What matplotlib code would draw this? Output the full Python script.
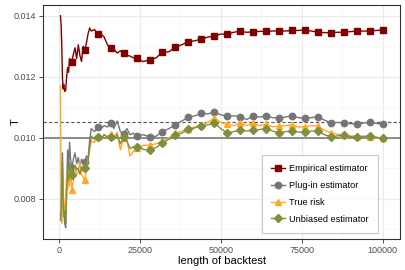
import matplotlib
matplotlib.use('Agg')
import matplotlib.pyplot as plt
import numpy as np

plt.rcParams['font.family'] = ['Liberation Sans', 'DejaVu Sans']

# Backtest lengths where the curves are sampled.
x_len = [500, 700, 900, 1100, 1300, 1500, 1800, 2100, 2400, 2700, 3000, 3300, 3600,
         4000, 4500, 5000, 5500, 6000, 6500, 7000, 7500, 8000, 8500, 9000, 9500,
         10000, 11000, 12000, 13000, 14000, 15000, 16000, 17000, 18000, 19000,
         20000, 21000, 22000, 23000, 24000, 26000, 28000, 30000, 32000, 34000,
         36000, 38000, 40000, 42000, 44000, 46000, 48000, 50000, 52000, 54000,
         56000, 58000, 60000, 62000, 64000, 66000, 68000, 70000, 72000, 74000,
         76000, 78000, 80000, 82000, 84000, 86000, 88000, 90000, 92000, 94000,
         96000, 98000, 100000]

empirical = [0.01400, 0.01370, 0.01300, 0.01200, 0.01160, 0.01175, 0.01152, 0.01155, 0.01200,
             0.01230, 0.01215, 0.01260, 0.01240,
             0.01250, 0.01275, 0.01295, 0.01260, 0.01305, 0.01270, 0.01250, 0.01300,
             0.01288, 0.01310, 0.01340, 0.01360,
             0.01350, 0.01355, 0.01339, 0.01340, 0.01330, 0.01305, 0.01295, 0.01290,
             0.01278, 0.01285,
             0.01277, 0.01270, 0.01268, 0.01262, 0.01260, 0.01250, 0.01255, 0.01262,
             0.01280, 0.01282,
             0.01298, 0.01305, 0.01315, 0.01318, 0.01324, 0.01330, 0.01334, 0.01340,
             0.01339, 0.01346,
             0.01349, 0.01346, 0.01347, 0.01349, 0.01349, 0.01350, 0.01351, 0.01350,
             0.01352, 0.01352,
             0.01353, 0.01350, 0.01346, 0.01345, 0.01344, 0.01346, 0.01346, 0.01348,
             0.01350, 0.01350,
             0.01350, 0.01352, 0.01353]

plugin = [0.00750, 0.00730, 0.00880, 0.00950, 0.00840, 0.00760, 0.00720, 0.00705, 0.00830,
          0.00960, 0.00900, 0.00985, 0.00930,
          0.00900, 0.00930, 0.00950, 0.00915, 0.00935, 0.00905, 0.00930, 0.00915,
          0.00921, 0.00940, 0.00930, 0.00990,
          0.01030, 0.01020, 0.01036, 0.01030, 0.01040, 0.01035, 0.01049, 0.01030,
          0.01055, 0.01020,
          0.01012, 0.01030, 0.01010, 0.01015, 0.01005, 0.01010, 0.01003, 0.01005,
          0.01020, 0.01030,
          0.01042, 0.01055, 0.01067, 0.01072, 0.01080, 0.01078, 0.01085, 0.01075,
          0.01071, 0.01072,
          0.01069, 0.01060, 0.01070, 0.01068, 0.01071, 0.01066, 0.01064, 0.01068,
          0.01072, 0.01066,
          0.01064, 0.01066, 0.01069, 0.01058, 0.01049, 0.01050, 0.01049, 0.01046,
          0.01045, 0.01048,
          0.01050, 0.01047, 0.01045]

true_risk = [0.01170, 0.00750, 0.00720, 0.00790, 0.00840, 0.00780, 0.00760, 0.00800, 0.00880,
             0.00830, 0.00880, 0.00840, 0.00900,
             0.00830, 0.00860, 0.00900, 0.00880, 0.00890, 0.00920, 0.00880, 0.00870,
             0.00861, 0.00900, 0.00930, 0.00960,
             0.00990, 0.00985, 0.01003, 0.00995, 0.01010, 0.01005, 0.01012, 0.01000,
             0.01018, 0.00960,
             0.01000, 0.00990, 0.00940, 0.00955, 0.00965, 0.00975, 0.00976, 0.00980,
             0.00987, 0.01000,
             0.01014, 0.01022, 0.01030, 0.01035, 0.01042, 0.01050, 0.01066, 0.01050,
             0.01045, 0.01040,
             0.01049, 0.01040, 0.01048, 0.01040, 0.01044, 0.01036, 0.01038, 0.01040,
             0.01042, 0.01035,
             0.01036, 0.01040, 0.01038, 0.01025, 0.01016, 0.01012, 0.01009, 0.01006,
             0.01006, 0.01005,
             0.01003, 0.01000, 0.00998]

unbiased = [0.00730, 0.00750, 0.00860, 0.00920, 0.00800, 0.00740, 0.00760, 0.00720, 0.00820,
            0.00900, 0.00860, 0.00920, 0.00890,
            0.00878, 0.00900, 0.00910, 0.00895, 0.00900, 0.00880, 0.00905, 0.00890,
            0.00900, 0.00910, 0.00920, 0.00970,
            0.01005, 0.00995, 0.01003, 0.00995, 0.01010, 0.01000, 0.01003, 0.00995,
            0.01010, 0.00980,
            0.01003, 0.00990, 0.00965, 0.00970, 0.00970, 0.00962, 0.00960, 0.00968,
            0.00982, 0.00995,
            0.01009, 0.01015, 0.01028, 0.01032, 0.01040, 0.01042, 0.01049, 0.01030,
            0.01016, 0.01020,
            0.01025, 0.01022, 0.01025, 0.01027, 0.01030, 0.01022, 0.01016, 0.01020,
            0.01023, 0.01018,
            0.01020, 0.01022, 0.01022, 0.01010, 0.01003, 0.01006, 0.01008, 0.01004,
            0.01001, 0.01004,
            0.01006, 0.01002, 0.00998]

true_T = 0.010
plugin_limit = 0.01053

series = [('Empirical estimator', empirical, '#800000', 's', 4.3),
          ('Plug-in estimator', plugin, '#757575', 'o', 4.6),
          ('True risk', true_risk, '#FFA726', '^', 5.0),
          ('Unbiased estimator', unbiased, '#7E8F3E', 'D', 3.8)]

x_arr = np.array(x_len)
marks = [i for i, v in enumerate(x_len) if v % 4000 == 0]

fig = plt.figure(figsize=(4.05, 2.7), dpi=100)
ax = fig.add_axes([0.106, 0.115, 0.882, 0.866])

ax.axhline(true_T, color='#8C8C8C', lw=1.4, zorder=1)
ax.axhline(plugin_limit, color='#555555', lw=0.8, ls=(0, (3, 2)), zorder=1)

for name, vals, col, mk, ms in series:
    ax.plot(x_arr, vals, color=col, lw=1.0, marker=mk, markersize=ms,
            markevery=marks, label=name, zorder=3)

ax.set_xlim(-4925, 105425)
ax.set_ylim(0.00668, 0.01435)
ax.set_xticks([0, 25000, 50000, 75000, 100000])
ax.set_xticklabels(['0', '25000', '50000', '75000', '100000'])
ax.set_xticks([12500, 37500, 62500, 87500], minor=True)
ax.set_yticks([0.008, 0.010, 0.012, 0.014])
ax.set_yticklabels(['0.008', '0.010', '0.012', '0.014'])
ax.set_yticks([0.007, 0.009, 0.011, 0.013], minor=True)

ax.grid(which='major', color='#EBEBEB', lw=0.9, zorder=0)
ax.grid(which='minor', color='#F4F4F4', lw=0.5, zorder=0)
ax.set_axisbelow(True)
ax.tick_params(which='major', length=3, width=0.6, color='#333333',
               labelsize=6.5, labelcolor='#4D4D4D', pad=2)
ax.tick_params(which='minor', length=0)
for s in ax.spines.values():
    s.set_color('#333333')
    s.set_linewidth(0.8)

ax.set_xlabel('length of backtest', fontsize=8, labelpad=1)
ax.set_ylabel('T', fontsize=8)
ax.yaxis.set_label_coords(-0.062, 0.5)

leg = ax.legend(loc='lower left', bbox_to_anchor=(0.613, 0.026), fontsize=6.6,
                frameon=True, fancybox=False, edgecolor='#BBBBBB',
                handlelength=1.5, handletextpad=0.5, borderpad=1.0,
                labelspacing=0.85, borderaxespad=0)
leg.get_frame().set_linewidth(0.8)

plt.savefig('out.png', dpi=100)
